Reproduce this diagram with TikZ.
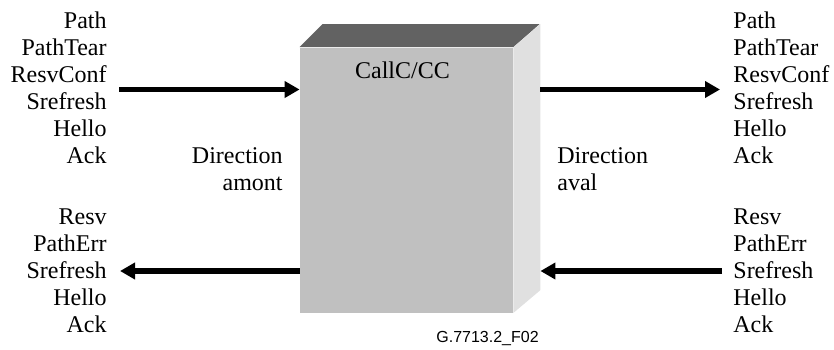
\documentclass[tikz,border=0pt]{standalone}
\usepackage{fontspec}
\setmainfont{Liberation Serif}
\newfontfamily\codefont{Liberation Sans}
\usetikzlibrary{arrows.meta,positioning}
\definecolor{boxfront}{RGB}{192,192,192}
\definecolor{boxside}{RGB}{224,224,224}
\definecolor{boxtop}{RGB}{98,98,98}

\begin{document}
\begin{tikzpicture}[x=0.5pt,y=-0.5pt,
  msgs/.style={font=\fontsize{12}{13.5}\selectfont, inner sep=0pt},
  flow/.style={line width=2.7pt, -{Triangle[length=7.5pt,width=8pt]}}]
  \useasboundingbox (0,0) rectangle (834,349);

  % Box
  \node[fill=boxfront, minimum width=106.5pt, minimum height=132.5pt, inner sep=0pt] (cc) at (406.5,180) {};
  \fill[boxtop] (cc.north west) -- ++(23,-23) -- ++(217,0) -- (cc.north east) -- cycle;
  \fill[boxside] (cc.north east) -- ++(27,-23) -- ++(0,266) -- (cc.south east) -- cycle;
  \node[msgs] (name) at (402.5,70) {CallC/CC};

  % Nodes
  \node[msgs, align=right, anchor=east] (upL) at (107,87.5) {Path\\PathTear\\ResvConf\\Srefresh\\Hello\\Ack};
  \node[msgs, align=left, anchor=west] (upR) at (733,87.5) {Path\\PathTear\\ResvConf\\Srefresh\\Hello\\Ack};
  \node[msgs, align=right, anchor=east] (downL) at (107,270.5) {Resv\\PathErr\\Srefresh\\Hello\\Ack};
  \node[msgs, align=left, anchor=west] (downR) at (733,270.5) {Resv\\PathErr\\Srefresh\\Hello\\Ack};
  \node[msgs, align=right, anchor=east] (amont) at (283,169) {Direction\\amont};
  \node[msgs, align=left, anchor=west] (aval) at (557,169) {Direction\\aval};
  \node[font=\codefont\fontsize{8}{9}\selectfont, inner sep=0pt] (code) at (487.5,338) {G.7713.2\_F02};

  % Edges
  \coordinate (inL) at (119,89.5);
  \coordinate (inR) at (720,89.5);
  \coordinate (outL) at (120,271);
  \coordinate (outR) at (722,271);
  \coordinate (side) at ([xshift=13.5pt]cc.east);
  \coordinate (frontT) at (cc.west |- inL);
  \coordinate (sideT) at (side |- inR);
  \coordinate (frontB) at (cc.west |- outL);
  \coordinate (sideB) at (side |- outR);
  \foreach \a/\b in {inL/frontT, sideT/inR, frontB/outL, outR/sideB}
    \draw[flow] (\a) -- (\b);
\end{tikzpicture}
\end{document}
